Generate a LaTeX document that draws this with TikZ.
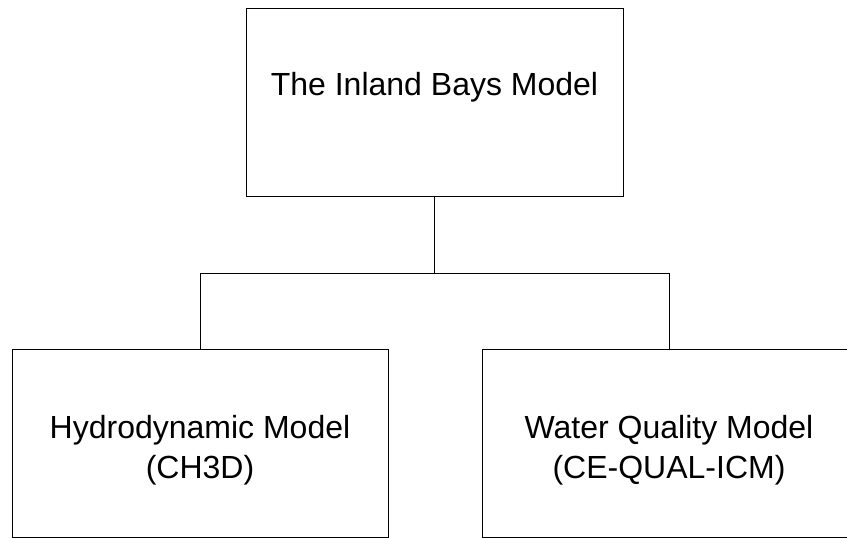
\documentclass[tikz,border=0pt]{standalone}
\usepackage{fontspec}
\setmainfont{Liberation Sans}
\usetikzlibrary{positioning}

\tikzset{%
        model box/.style={
            rectangle,
            draw,
            line width=1pt,
            align=center,
            minimum height=188pt,
            minimum width=376pt,
            text height=75pt,
            text depth=5pt,
            font=\fontsize{32}{40}\selectfont
        },
        top model/.style={
            minimum width=377pt,
            text height=23pt,
            text depth=37pt
        },
    }

\begin{document}
\begin{tikzpicture}[x=1pt, y=-1pt, line width=1pt]

        \useasboundingbox (0,0) rectangle (847,538);
        \clip (0,0) rectangle (847,538);

        \node [model box, top model] (inland) at (434.5,102) {The Inland Bays Model};

        \node [model box] (hydro) at (200,443) {Hydrodynamic Model\\(CH3D)};
        \node [model box, minimum width=374pt] (water) at (669,443) {Water Quality Model\\(CE-QUAL-ICM)};

        \coordinate (fork) at (inland.south |- 0,273);

        \draw (inland.south) -- (fork);
        \foreach \m in {hydro,water}
            \draw (fork) -| (\m.north);
    \end{tikzpicture}
\end{document}
